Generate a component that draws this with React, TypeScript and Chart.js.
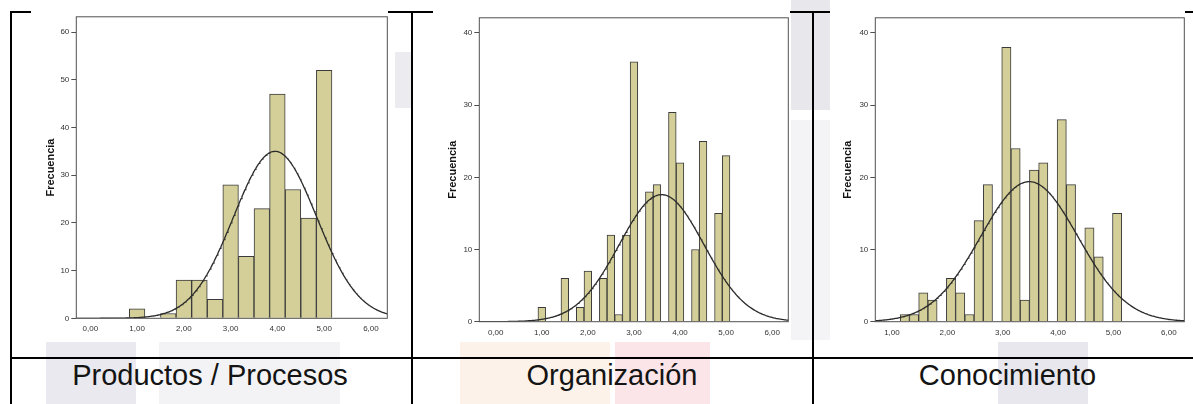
import React, { useEffect, useRef } from 'react';
import { Chart, registerables } from 'chart.js';

Chart.register(...registerables);

// ---------- DATA ----------
const binsProductos = [1.0, 1.3333, 1.6667, 2.0, 2.3333, 2.6667, 3.0, 3.3333, 3.6667, 4.0, 4.3333, 4.6667, 5.0];
const freqProductos = [2, 0, 1, 8, 8, 4, 28, 13, 23, 47, 27, 21, 52];

const binsOrganizacion = [1.0, 1.1667, 1.3333, 1.5, 1.6667, 1.8333, 2.0, 2.1667, 2.3333, 2.5, 2.6667, 2.8333, 3.0, 3.1667, 3.3333, 3.5, 3.6667, 3.8333, 4.0, 4.1667, 4.3333, 4.5, 4.6667, 4.8333, 5.0];
const freqOrganizacion = [2, 0, 0, 6, 0, 2, 7, 0, 6, 12, 1, 12, 36, 0, 18, 19, 0, 29, 22, 0, 10, 25, 0, 15, 23];

const binsConocimiento = [1.2333, 1.4, 1.5667, 1.7333, 1.9, 2.0667, 2.2333, 2.4, 2.5667, 2.7333, 2.9, 3.0667, 3.2333, 3.4, 3.5667, 3.7333, 3.9, 4.0667, 4.2333, 4.4, 4.5667, 4.7333, 4.9, 5.0667];
const freqConocimiento = [1, 1, 4, 3, 0, 6, 4, 1, 14, 19, 0, 38, 24, 3, 21, 22, 0, 28, 19, 0, 13, 9, 0, 15];

// normal curve parameters: [mean, sd, peak height]
const curveProductos = [3.95, 0.89, 35];
const curveOrganizacion = [3.6, 0.92, 17.6];
const curveConocimiento = [3.48, 0.88, 19.4];

const xTicksProductos = [0, 1, 2, 3, 4, 5, 6];
const xLabelsProductos = ['0,00', '1,00', '2,00', '3,00', '4,00', '5,00', '6,00'];
const yTicksProductos = [0, 10, 20, 30, 40, 50, 60];

const xTicksOrganizacion = [0, 1, 2, 3, 4, 5, 6];
const xLabelsOrganizacion = ['0,00', '1,00', '2,00', '3,00', '4,00', '5,00', '6,00'];
const yTicksOrganizacion = [0, 10, 20, 30, 40];

const xTicksConocimiento = [1, 2, 3, 4, 5, 6];
const xLabelsConocimiento = ['1,00', '2,00', '3,00', '4,00', '5,00', '6,00'];
const yTicksConocimiento = [0, 10, 20, 30, 40];

const cellTitles = ['Productos / Procesos', 'Organización', 'Conocimiento'];
const yAxisTitle = 'Frecuencia';

const FONT = '"Liberation Sans", Arial, Helvetica, sans-serif';

const framePlugin = {
  id: 'frameBox',
  afterDatasetsDraw(chart: any) {
    const { ctx, chartArea } = chart;
    ctx.save();
    ctx.strokeStyle = '#505050';
    ctx.lineWidth = 1;
    ctx.strokeRect(chartArea.left, chartArea.top, chartArea.right - chartArea.left, chartArea.bottom - chartArea.top);
    ctx.restore();
  },
};

function curvePoints(params: number[], xMin: number, xMax: number) {
  const [mean, sd, peak] = params;
  const pts: { x: number; y: number }[] = [];
  const steps = 400;
  for (let i = 0; i <= steps; i++) {
    const x = xMin + ((xMax - xMin) * i) / steps;
    const z = (x - mean) / sd;
    pts.push({ x, y: peak * Math.exp(-0.5 * z * z) });
  }
  return pts;
}

type HistProps = {
  bins: number[];
  freq: number[];
  curve: number[];
  xTicks: number[];
  xLabels: string[];
  yTicks: number[];
  xMin: number;
  xMax: number;
  yMax: number;
  left: number;
  top: number;
  width: number;
  height: number;
  axisW: number;
  axisH: number;
  padTop: number;
  padRight: number;
  titlePad: number;
};

function Histogram(p: HistProps) {
  const ref = useRef<HTMLCanvasElement | null>(null);
  useEffect(() => {
    if (!ref.current) return;
    const chart = new Chart(ref.current, {
      type: 'bar',
      data: {
        datasets: [
          {
            type: 'line',
            data: curvePoints(p.curve, p.xMin, p.xMax),
            borderColor: '#2a2a2a',
            borderWidth: 1.3,
            pointRadius: 0,
            tension: 0,
            fill: false,
            order: 0,
          } as any,
          {
            type: 'bar',
            data: p.bins.map((b, i) => ({ x: b, y: p.freq[i] })),
            backgroundColor: '#d4cf98',
            borderColor: '#3a3a3a',
            borderWidth: 1,
            barPercentage: 1,
            categoryPercentage: 1,
            order: 1,
          } as any,
        ],
      },
      options: {
        animation: false,
        responsive: false,
        maintainAspectRatio: false,
        layout: { padding: { left: 0, top: p.padTop, right: p.padRight, bottom: 0 } },
        plugins: { legend: { display: false }, tooltip: { enabled: false } },
        scales: {
          x: {
            type: 'linear',
            min: p.xMin,
            max: p.xMax,
            offset: false,
            grid: { display: true, drawOnChartArea: false, drawTicks: false, offset: false },
            border: { display: false },
            ticks: {
              padding: 6,
              autoSkip: false,
              maxRotation: 0,
              includeBounds: false,
              color: '#333',
              font: { size: 8, family: FONT },
              callback: (_v: any, i: number) => p.xLabels[i],
            },
            afterBuildTicks: (axis: any) => {
              axis.ticks = p.xTicks.map((v) => ({ value: v }));
            },
            afterFit: (axis: any) => {
              axis.height = p.axisH;
            },
          },
          y: {
            type: 'linear',
            min: 0,
            max: p.yMax,
            grid: { drawOnChartArea: false, drawTicks: true, tickLength: 5, color: '#505050' },
            border: { display: false },
            ticks: {
              padding: 2,
              autoSkip: false,
              includeBounds: false,
              color: '#333',
              font: { size: 8, family: FONT },
            },
            afterBuildTicks: (axis: any) => {
              axis.ticks = p.yTicks.map((v) => ({ value: v }));
            },
            afterFit: (axis: any) => {
              axis.width = p.axisW;
            },
            title: {
              display: true,
              text: yAxisTitle,
              color: '#111',
              font: { size: 11, weight: 'bold', family: FONT },
              padding: { top: p.titlePad, bottom: 0 },
            },
          },
        },
      } as any,
      plugins: [framePlugin],
    });
    return () => chart.destroy();
  }, []);
  return (
    <canvas
      ref={ref}
      width={p.width}
      height={p.height}
      style={{ position: 'absolute', left: p.left, top: p.top, width: p.width, height: p.height, background: '#fff', display: 'block' }}
    />
  );
}

const blocks = [
  { left: 46, top: 342, width: 90, height: 62, background: '#e9e9ef' },
  { left: 159, top: 342, width: 181, height: 62, background: '#f3f3f6' },
  { left: 395, top: 52, width: 17, height: 56, background: '#ececf0' },
  { left: 460, top: 342, width: 150, height: 62, background: '#fdf2e9' },
  { left: 615, top: 342, width: 95, height: 62, background: '#fbe5e8' },
  { left: 791, top: 0, width: 39, height: 110, background: '#e7e7ec' },
  { left: 791, top: 120, width: 39, height: 220, background: '#f4f4f7' },
  { left: 998, top: 342, width: 90, height: 62, background: '#e7e7ed' },
];

export default function App() {
  const line = (s: any) => <div style={{ position: 'absolute', background: '#000', ...s }} />;
  const label = (text: string, center: number) => (
    <div
      style={{
        position: 'absolute',
        left: center - 200,
        width: 400,
        top: 361,
        height: 29,
        lineHeight: '29px',
        fontSize: 29,
        fontFamily: FONT,
        color: '#141414',
        textAlign: 'center',
        whiteSpace: 'nowrap',
      }}
    >
      {text}
    </div>
  );
  return (
    <div style={{ position: 'absolute', left: 0, top: 0, width: 1193, height: 404, background: '#fff', overflow: 'hidden' }}>
      {blocks.map((b, i) => (
        <div key={i} style={{ position: 'absolute', ...b }} />
      ))}
      {line({ left: 10, top: 11, width: 1183, height: 2 })}
      {line({ left: 10, top: 357, width: 1183, height: 2 })}
      {line({ left: 10, top: 11, width: 2, height: 393 })}
      {line({ left: 411, top: 11, width: 2, height: 393 })}
      {line({ left: 812, top: 11, width: 2, height: 393 })}
      <Histogram
        bins={binsProductos}
        freq={freqProductos}
        curve={curveProductos}
        xTicks={xTicksProductos}
        xLabels={xLabelsProductos}
        yTicks={yTicksProductos}
        xMin={-0.3}
        xMax={6.35}
        yMax={63.2}
        left={31}
        top={10}
        width={357}
        height={331}
        axisW={45.3}
        axisH={22.7}
        padTop={2.7}
        padRight={0.7}
        titlePad={13.1}
      />
      <Histogram
        bins={binsOrganizacion}
        freq={freqOrganizacion}
        curve={curveOrganizacion}
        xTicks={xTicksOrganizacion}
        xLabels={xLabelsOrganizacion}
        yTicks={yTicksOrganizacion}
        xMin={-0.356}
        xMax={6.35}
        yMax={42.1}
        left={433}
        top={11}
        width={357}
        height={331}
        axisW={46.3}
        axisH={20.3}
        padTop={4.7}
        padRight={1.7}
        titlePad={13.7}
      />
      <Histogram
        bins={binsConocimiento}
        freq={freqConocimiento}
        curve={curveConocimiento}
        xTicks={xTicksConocimiento}
        xLabels={xLabelsConocimiento}
        yTicks={yTicksConocimiento}
        xMin={0.7}
        xMax={6.28}
        yMax={42.1}
        left={830}
        top={11}
        width={355}
        height={331}
        axisW={45.3}
        axisH={20.3}
        padTop={4.3}
        padRight={0.7}
        titlePad={11.4}
      />
      {label(cellTitles[0], 210)}
      {label(cellTitles[1], 612)}
      {label(cellTitles[2], 1007.5)}
    </div>
  );
}
